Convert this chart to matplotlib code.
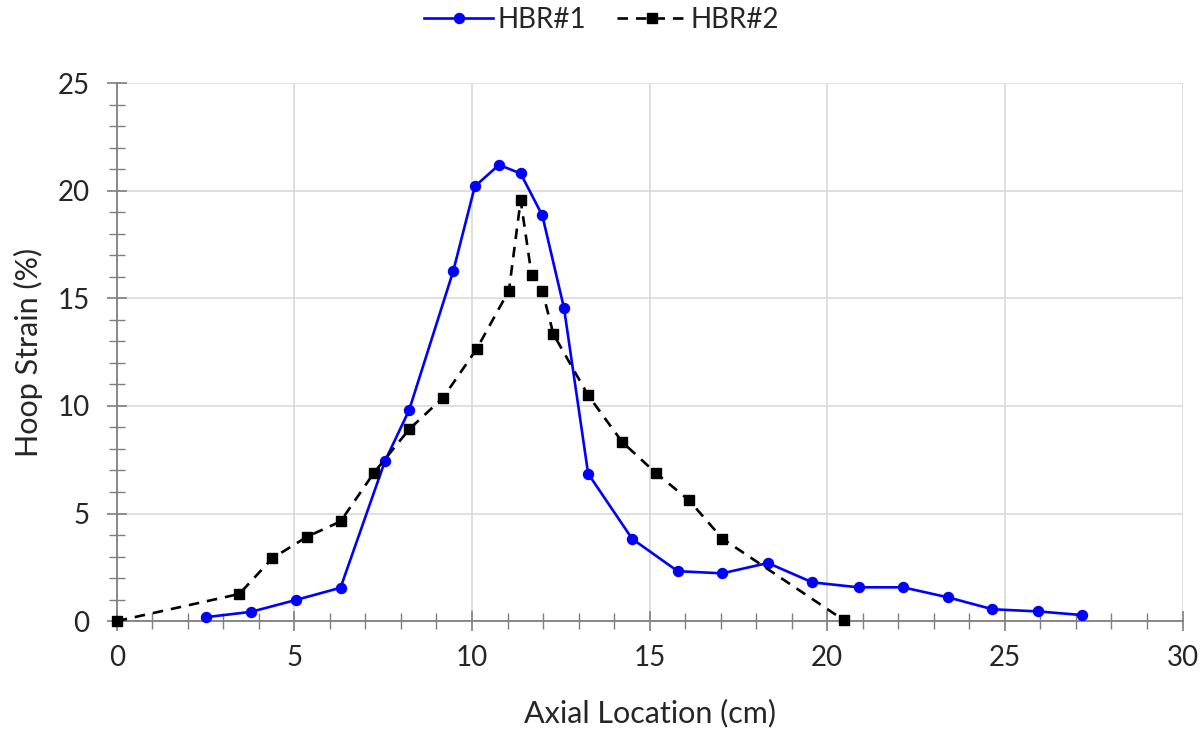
import matplotlib
matplotlib.use("Agg")
import matplotlib.pyplot as plt
from matplotlib.ticker import MultipleLocator

# Hoop strain profiles along the axial direction
hbr1_x = [2.5, 3.78, 5.04, 6.3, 7.55, 8.23, 9.47, 10.08, 10.76, 11.37, 11.98, 12.59,
          13.27, 14.51, 15.79, 17.04, 18.33, 19.58, 20.88, 22.13, 23.41, 24.65, 25.94, 27.18]
hbr1_y = [0.18, 0.43, 0.98, 1.55, 7.43, 9.8, 16.25, 20.2, 21.2, 20.8, 18.85, 14.55,
          6.85, 3.82, 2.32, 2.22, 2.7, 1.8, 1.57, 1.57, 1.1, 0.55, 0.45, 0.28]

hbr2_x = [0, 3.45, 4.38, 5.37, 6.3, 7.24, 8.23, 9.19, 10.13, 11.04, 11.37, 11.68,
          11.98, 12.29, 13.27, 14.23, 15.17, 16.1, 17.05, 20.46]
hbr2_y = [0, 1.26, 2.92, 3.93, 4.63, 6.89, 8.91, 10.39, 12.64, 15.36, 19.56, 16.06,
          15.36, 13.34, 10.49, 8.32, 6.89, 5.63, 3.83, 0.05]

series_labels = ["HBR#1", "HBR#2"]
x_label = "Axial Location (cm)"
y_label = "Hoop Strain (%)"

plt.rcParams["font.family"] = ["Lato", "DejaVu Sans"]
text_color = "#262626"

fig = plt.figure(figsize=(12.03, 7.29), dpi=100)
ax = fig.add_axes([0.097, 0.148, 0.886, 0.738])

ax.plot(hbr1_x, hbr1_y, color="#0000FF", lw=1.9, marker="o", ms=7.2,
        label=series_labels[0], zorder=3, clip_on=False)
ax.plot(hbr2_x, hbr2_y, color="black", lw=1.9, ls=(0, (4, 3)), marker="s", ms=7,
        label=series_labels[1], zorder=4, clip_on=False)

ax.set_xlim(0, 30)
ax.set_ylim(0, 25)
ax.xaxis.set_major_locator(MultipleLocator(5))
ax.xaxis.set_minor_locator(MultipleLocator(1))
ax.yaxis.set_major_locator(MultipleLocator(5))
ax.yaxis.set_minor_locator(MultipleLocator(1))

ax.grid(True, which="major", color="#d9d9d9", lw=1.2, zorder=0)
ax.set_axisbelow(True)

for side in ("top", "right"):
    ax.spines[side].set_visible(False)
for side in ("left", "bottom"):
    ax.spines[side].set_color("#7f7f7f")
    ax.spines[side].set_linewidth(1.3)

ax.tick_params(which="major", direction="inout", length=15, width=1.2,
               color="#7f7f7f", labelsize=20, labelcolor=text_color)
ax.tick_params(axis="x", which="major", pad=10)
ax.tick_params(axis="y", which="major", pad=12)
ax.tick_params(which="minor", direction="inout", length=12, width=1.0,
               color="#7f7f7f")

ax.set_xlabel(x_label, fontsize=22, color=text_color, labelpad=20)
ax.set_ylabel(y_label, fontsize=22, color=text_color, labelpad=10)

leg = fig.legend(loc="upper center", bbox_to_anchor=(0.5, 1.025), ncol=2,
                 frameon=False, fontsize=20, handlelength=2.5,
                 columnspacing=1.1, handletextpad=0.15)
for t in leg.get_texts():
    t.set_color(text_color)

fig.savefig("out.png", dpi=100)
